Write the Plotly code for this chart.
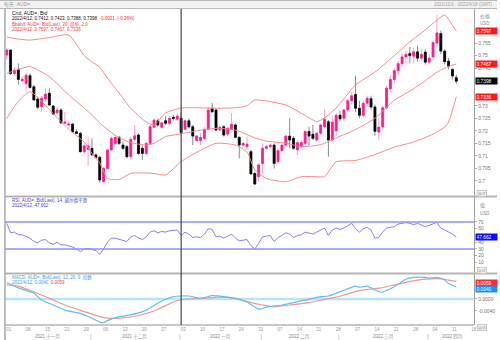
import plotly.graph_objects as go
import pandas as pd

# ---------------- data ----------------
dates = pd.bdate_range("2021-11-01", "2022-04-12").strftime("%Y-%m-%d").tolist()
axis_days = pd.bdate_range("2021-11-01", "2022-04-19")

open_ = [0.7502, 0.7522, 0.7429, 0.7445, 0.7400, 0.7389, 0.7420, 0.7376, 0.7327, 0.7296,
         0.7327, 0.7350, 0.7299, 0.7272, 0.7283, 0.7230, 0.7223, 0.7227, 0.7196, 0.7190,
         0.7117, 0.7126, 0.7130, 0.7104, 0.7094, 0.6997, 0.7050, 0.7124, 0.7150, 0.7174,
         0.7143, 0.7137, 0.7097, 0.7166, 0.7183, 0.7130, 0.7110, 0.7150, 0.7214, 0.7240,
         0.7214, 0.7240, 0.7230, 0.7254, 0.7246, 0.7250, 0.7206, 0.7240, 0.7216, 0.7161,
         0.7161, 0.7170, 0.7206, 0.7290, 0.7283, 0.7203, 0.7216, 0.7187, 0.7206, 0.7223,
         0.7174, 0.7143, 0.7137, 0.7117, 0.7030, 0.7017, 0.7070, 0.7130, 0.7137, 0.7143,
         0.7077, 0.7121, 0.7143, 0.7179, 0.7170, 0.7124, 0.7137, 0.7150, 0.7197, 0.7186,
         0.7163, 0.7190, 0.7216, 0.7236, 0.7163, 0.7200, 0.7262, 0.7250, 0.7283, 0.7320,
         0.7345, 0.7290, 0.7262, 0.7310, 0.7328, 0.7295, 0.7195, 0.7215, 0.7292, 0.7368,
         0.7405, 0.7440, 0.7468, 0.7495, 0.7508, 0.7498, 0.7515, 0.7490, 0.7514, 0.7474,
         0.7495, 0.7550, 0.7588, 0.7518, 0.7478, 0.7445, 0.7412]
high = [0.7529, 0.7525, 0.7453, 0.7469, 0.7416, 0.7429, 0.7429, 0.7383, 0.7336, 0.7339,
        0.7370, 0.7370, 0.7303, 0.7296, 0.7290, 0.7276, 0.7236, 0.7230, 0.7206, 0.7196,
        0.7150, 0.7177, 0.7170, 0.7110, 0.7100, 0.7057, 0.7130, 0.7177, 0.7183, 0.7180,
        0.7157, 0.7143, 0.7177, 0.7223, 0.7190, 0.7143, 0.7157, 0.7223, 0.7250, 0.7250,
        0.7236, 0.7259, 0.7259, 0.7263, 0.7270, 0.7276, 0.7246, 0.7250, 0.7223, 0.7183,
        0.7190, 0.7216, 0.7296, 0.7312, 0.7290, 0.7219, 0.7223, 0.7216, 0.7270, 0.7230,
        0.7177, 0.7157, 0.7177, 0.7124, 0.7037, 0.7070, 0.7150, 0.7143, 0.7150, 0.7150,
        0.7130, 0.7150, 0.7183, 0.7250, 0.7179, 0.7163, 0.7163, 0.7203, 0.7216, 0.7223,
        0.7197, 0.7230, 0.7286, 0.7243, 0.7260, 0.7272, 0.7280, 0.7290, 0.7330, 0.7355,
        0.7420, 0.7320, 0.7320, 0.7340, 0.7340, 0.7305, 0.7250, 0.7300, 0.7380, 0.7420,
        0.7450, 0.7480, 0.7510, 0.7520, 0.7535, 0.7530, 0.7540, 0.7525, 0.7525, 0.7505,
        0.7560, 0.7662, 0.7600, 0.7525, 0.7490, 0.7450, 0.7423]
low = [0.7485, 0.7422, 0.7422, 0.7383, 0.7396, 0.7356, 0.7369, 0.7320, 0.7288, 0.7276,
       0.7316, 0.7299, 0.7263, 0.7263, 0.7227, 0.7227, 0.7217, 0.7192, 0.7187, 0.7113,
       0.7108, 0.7060, 0.7100, 0.7090, 0.6993, 0.6993, 0.7046, 0.7117, 0.7143, 0.7143,
       0.7124, 0.7090, 0.7090, 0.7157, 0.7104, 0.7084, 0.7104, 0.7143, 0.7210, 0.7217,
       0.7210, 0.7223, 0.7223, 0.7240, 0.7240, 0.7187, 0.7203, 0.7210, 0.7143, 0.7157,
       0.7143, 0.7163, 0.7203, 0.7272, 0.7197, 0.7197, 0.7177, 0.7179, 0.7203, 0.7170,
       0.7090, 0.7137, 0.7124, 0.7024, 0.6984, 0.6997, 0.7030, 0.7124, 0.7130, 0.7050,
       0.7070, 0.7117, 0.7137, 0.7130, 0.7124, 0.7104, 0.7130, 0.7143, 0.7143, 0.7163,
       0.7157, 0.7183, 0.7210, 0.7097, 0.7157, 0.7180, 0.7237, 0.7240, 0.7275, 0.7305,
       0.7275, 0.7250, 0.7255, 0.7295, 0.7285, 0.7180, 0.7165, 0.7205, 0.7285, 0.7355,
       0.7390, 0.7425, 0.7455, 0.7470, 0.7470, 0.7470, 0.7475, 0.7480, 0.7465, 0.7465,
       0.7490, 0.7535, 0.7505, 0.7465, 0.7445, 0.7405, 0.7388]
close = [0.7522, 0.7429, 0.7442, 0.7405, 0.7405, 0.7422, 0.7373, 0.7323, 0.7294, 0.7330,
         0.7346, 0.7303, 0.7267, 0.7283, 0.7232, 0.7235, 0.7227, 0.7196, 0.7190, 0.7117,
         0.7140, 0.7140, 0.7104, 0.7094, 0.7004, 0.7050, 0.7124, 0.7170, 0.7174, 0.7150,
         0.7130, 0.7097, 0.7166, 0.7180, 0.7110, 0.7110, 0.7150, 0.7216, 0.7243, 0.7223,
         0.7232, 0.7230, 0.7250, 0.7250, 0.7259, 0.7193, 0.7240, 0.7216, 0.7179, 0.7179,
         0.7174, 0.7206, 0.7283, 0.7276, 0.7203, 0.7214, 0.7183, 0.7210, 0.7226, 0.7174,
         0.7143, 0.7150, 0.7147, 0.7028, 0.6988, 0.7064, 0.7130, 0.7137, 0.7143, 0.7070,
         0.7121, 0.7143, 0.7179, 0.7163, 0.7130, 0.7153, 0.7153, 0.7197, 0.7179, 0.7170,
         0.7190, 0.7223, 0.7246, 0.7163, 0.7235, 0.7262, 0.7248, 0.7283, 0.7320, 0.7340,
         0.7290, 0.7262, 0.7310, 0.7330, 0.7295, 0.7198, 0.7215, 0.7292, 0.7370, 0.7405,
         0.7440, 0.7468, 0.7495, 0.7505, 0.7500, 0.7515, 0.7490, 0.7505, 0.7474, 0.7490,
         0.7552, 0.7590, 0.7518, 0.7476, 0.7458, 0.7419, 0.7398]

bb_dates = ["2021-11-01", "2021-11-04", "2021-11-09", "2021-11-16", "2021-11-23", "2021-11-29",
            "2021-12-01", "2021-12-03", "2021-12-07", "2021-12-10", "2021-12-15", "2021-12-21",
            "2021-12-23", "2021-12-28", "2022-01-03", "2022-01-07", "2022-01-14", "2022-01-21",
            "2022-01-26", "2022-01-28", "2022-02-02", "2022-02-09", "2022-02-15", "2022-02-21",
            "2022-02-23", "2022-02-28", "2022-03-07", "2022-03-14", "2022-03-21", "2022-03-25",
            "2022-03-31", "2022-04-05", "2022-04-07", "2022-04-08", "2022-04-12"]
bb_upper = [0.7574, 0.7566, 0.7562, 0.7572, 0.7582, 0.7500, 0.7475, 0.7454, 0.7410, 0.7351,
            0.7290, 0.7235, 0.7223, 0.7271, 0.7291, 0.7292, 0.7290, 0.7292, 0.7300, 0.7323,
            0.7319, 0.7303, 0.7270, 0.7237, 0.7251, 0.7291, 0.7383, 0.7434, 0.7500, 0.7555,
            0.7602, 0.7642, 0.7662, 0.7645, 0.7597]
bb_mid = [0.7429, 0.7445, 0.7456, 0.7416, 0.7343, 0.7291, 0.7262, 0.7231, 0.7205, 0.7172,
          0.7153, 0.7143, 0.7150, 0.7177, 0.7188, 0.7200, 0.7210, 0.7203, 0.7185, 0.7172,
          0.7159, 0.7151, 0.7137, 0.7142, 0.7150, 0.7172, 0.7205, 0.7250, 0.7322, 0.7358,
          0.7400, 0.7434, 0.7450, 0.7457, 0.7467]
bb_lower = [0.7250, 0.7318, 0.7356, 0.7285, 0.7206, 0.7155, 0.7110, 0.7072, 0.7010, 0.7006,
            0.7030, 0.7032, 0.7030, 0.7024, 0.7077, 0.7114, 0.7150, 0.7143, 0.7115, 0.7044,
            0.7010, 0.6997, 0.7017, 0.7017, 0.7017, 0.7076, 0.7082, 0.7105, 0.7135, 0.7151,
            0.7173, 0.7195, 0.7215, 0.7235, 0.7336]

rsi = [68, 54, 55, 51, 51, 49, 46, 41, 39, 43,
       44, 39, 37, 40, 36, 36, 35, 33, 30, 26,
       30, 31, 29, 28, 22, 30, 40, 46, 46, 44,
       43, 41, 48, 50, 46, 44, 48, 55, 57, 54,
       56, 55, 57, 57, 58, 50, 55, 52, 47, 48,
       47, 52, 60, 59, 48, 49, 46, 49, 52, 46,
       42, 43, 44, 35, 30, 38, 48, 49, 50, 41,
       47, 50, 54, 52, 47, 50, 51, 55, 53, 52,
       55, 58, 61, 50, 58, 61, 59, 61, 64, 68,
       60, 55, 60, 62, 58, 46, 47, 55, 61, 62,
       63, 67, 68, 69, 68, 66, 68, 65, 63, 65,
       67, 69.5, 61, 58, 55, 52, 47.662]

macd_dates = ["2021-11-01", "2021-11-04", "2021-11-10", "2021-11-12", "2021-11-17", "2021-11-22",
              "2021-11-26", "2021-12-01", "2021-12-03", "2021-12-06", "2021-12-07", "2021-12-10",
              "2021-12-15", "2021-12-21", "2021-12-24", "2021-12-28", "2021-12-30", "2022-01-05",
              "2022-01-10", "2022-01-13", "2022-01-18", "2022-01-21", "2022-01-26", "2022-01-31",
              "2022-02-02", "2022-02-08", "2022-02-11", "2022-02-17", "2022-02-22", "2022-02-24",
              "2022-02-28", "2022-03-01", "2022-03-07", "2022-03-08", "2022-03-10", "2022-03-15",
              "2022-03-16", "2022-03-21", "2022-03-24", "2022-03-28", "2022-03-31", "2022-04-01",
              "2022-04-05", "2022-04-07", "2022-04-08", "2022-04-12"]
macd = [0.0054, 0.0037, 0.0019, -0.0003, -0.0020, -0.0037, -0.0048, -0.0064, -0.0077, -0.0079,
        -0.0072, -0.0059, -0.0053, -0.0037, -0.0014, -0.0001, 0.0008, 0.0010, 0.0002, 0.0011,
        0.0008, 0.0002, -0.0010, -0.0034, -0.0027, -0.0020, -0.0012, -0.0001, 0.0008, 0.0010,
        0.0019, 0.0024, 0.0043, 0.0039, 0.0043, 0.0024, 0.0024, 0.0041, 0.0066, 0.0072,
        0.0072, 0.0069, 0.0072, 0.0063, 0.0052, 0.0040]
sig_dates = ["2021-11-01", "2021-11-04", "2021-11-10", "2021-11-16", "2021-11-22", "2021-11-29",
             "2021-12-03", "2021-12-07", "2021-12-10", "2021-12-17", "2021-12-23", "2021-12-28",
             "2021-12-31", "2022-01-05", "2022-01-10", "2022-01-17", "2022-01-21", "2022-01-26",
             "2022-02-01", "2022-02-04", "2022-02-10", "2022-02-17", "2022-02-23", "2022-02-28",
             "2022-03-02", "2022-03-08", "2022-03-15", "2022-03-21", "2022-03-25", "2022-03-31",
             "2022-04-06", "2022-04-08", "2022-04-12"]
signal = [0.0047, 0.0043, 0.0024, 0.0002, -0.0020, -0.0042, -0.0059, -0.0064, -0.0064, -0.0055,
          -0.0040, -0.0022, -0.0005, 0.0000, 0.0002, 0.0006, 0.0002, -0.0009, -0.0020, -0.0026,
          -0.0020, -0.0012, -0.0001, 0.0006, 0.0013, 0.0028, 0.0036, 0.0047, 0.0058, 0.0066,
          0.0067, 0.0063, 0.0059]

price_ticks = [0.700, 0.705, 0.710, 0.715, 0.720, 0.725, 0.730, 0.745, 0.750, 0.755]
rsi_ticks = [10, 20, 30, 40, 60, 70]
macd_ticks = [-0.004, 0.0]
cn_months = ["一月", "二月", "三月", "四月", "五月", "六月", "七月", "八月", "九月", "十月", "十一月", "十二月"]

# ---------------- helpers ----------------
W, H = 500, 340
def px(v): return v / W
def py(v): return 1 - v / H

pos = {d: i for i, d in enumerate(dates)}
xi = list(range(len(dates)))
FONT = "Liberation Sans, Arial, Noto Sans CJK SC"

fig = go.Figure()

# Bollinger bands
for arr in (bb_upper, bb_mid, bb_lower):
    fig.add_trace(go.Scatter(x=[pos[d] for d in bb_dates], y=arr, mode="lines",
                             line=dict(color="#f58a8a", width=1, shape="spline", smoothing=0.6),
                             hoverinfo="skip", showlegend=False, xaxis="x", yaxis="y"))

# candle wicks
fig.add_trace(go.Candlestick(x=xi, open=open_, high=high, low=low, close=close,
                             increasing=dict(line=dict(color="#ff9ccc", width=1), fillcolor="#ff9ccc"),
                             decreasing=dict(line=dict(color="#8a8a8a", width=1), fillcolor="#8a8a8a"),
                             whiskerwidth=0, hoverinfo="skip", showlegend=False, xaxis="x", yaxis="y"))
# candle bodies
body_hi = [max(o, c) for o, c in zip(open_, close)]
body_lo = [min(o, c) for o, c in zip(open_, close)]
fig.add_trace(go.Candlestick(x=xi, open=open_, high=body_hi, low=body_lo, close=close,
                             increasing=dict(line=dict(color="#ff1a8c", width=0.6), fillcolor="#ff1a8c"),
                             decreasing=dict(line=dict(color="#000000", width=0.6), fillcolor="#000000"),
                             whiskerwidth=0, hoverinfo="skip", showlegend=False, xaxis="x", yaxis="y"))

# RSI
fig.add_trace(go.Scatter(x=xi, y=rsi, mode="lines", line=dict(color="#8282ff", width=1),
                         hoverinfo="skip", showlegend=False, xaxis="x", yaxis="y2"))
# MACD
fig.add_trace(go.Scatter(x=[pos[d] for d in sig_dates], y=signal, mode="lines",
                         line=dict(color="#f59494", width=1.2, shape="spline", smoothing=0.6),
                         hoverinfo="skip", showlegend=False, xaxis="x", yaxis="y3"))
fig.add_trace(go.Scatter(x=[pos[d] for d in macd_dates], y=macd, mode="lines",
                         line=dict(color="#63bdf6", width=1.2, shape="spline", smoothing=0.6),
                         hoverinfo="skip", showlegend=False, xaxis="x", yaxis="y3"))

# x axis labels
tick_idx = list(range(0, len(axis_days), 5))
tick_txt = [axis_days[i].strftime("%d") for i in tick_idx]

shapes = []
annotations = []

# month labels + separators
months = {}
for i, d in enumerate(axis_days):
    months.setdefault((d.year, d.month), []).append(i)
for (yr, mo), idxs in months.items():
    annotations.append(dict(x=(idxs[0] + idxs[-1]) / 2, xref="x", y=py(336.8), yref="paper",
                            text=f"{yr} {cn_months[mo - 1]}", showarrow=False, yanchor="middle",
                            font=dict(size=4.5, color="#888", family=FONT)))
    shapes.append(dict(type="line", xref="x", x0=idxs[0] - 0.3, x1=idxs[0] - 0.3, yref="paper",
                       y0=py(334.5), y1=py(339.5), line=dict(color="#c8c8c8", width=1)))

# header
shapes.append(dict(type="rect", xref="paper", yref="paper", x0=0, x1=1, y0=py(8.5), y1=1,
                   fillcolor="#f2f2f2", line=dict(width=0), layer="below"))
for yline in (0.5, 8.5):
    shapes.append(dict(type="line", xref="paper", yref="paper", x0=0, x1=1, y0=py(yline), y1=py(yline),
                       line=dict(color="#b8b8b8", width=1)))
# panel separators
for yline in (196.5, 273.5):
    shapes.append(dict(type="line", xref="paper", yref="paper", x0=px(5), x1=1, y0=py(yline), y1=py(yline),
                       line=dict(color="#b5b5b5", width=2)))
shapes.append(dict(type="line", xref="paper", yref="paper", x0=px(5), x1=px(477), y0=py(325), y1=py(325),
                   line=dict(color="#b5b5b5", width=1.5)))
shapes.append(dict(type="line", xref="paper", yref="paper", x0=px(5), x1=px(5), y0=0, y1=py(8.5),
                   line=dict(color="#a8a8a8", width=1.5)))
# RSI levels
for lvl in (70, 30):
    shapes.append(dict(type="line", xref="x domain", x0=0, x1=1, yref="y2", y0=lvl, y1=lvl,
                       line=dict(color="#8f8fff", width=1.5)))
# MACD zero
shapes.append(dict(type="line", xref="x domain", x0=0, x1=1, yref="y3", y0=0, y1=0,
                   line=dict(color="#b9e3fb", width=2.5), layer="below"))
# crosshair
shapes.append(dict(type="line", xref="x", x0=pos["2022-01-03"], x1=pos["2022-01-03"], yref="paper",
                   y0=py(325), y1=py(9), line=dict(color="#444444", width=1.2)))

# legends
def txt(x, y, s, color, size=5, anchor="left"):
    annotations.append(dict(x=px(x), y=py(y), xref="paper", yref="paper", text=s, showarrow=False,
                            xanchor=anchor, yanchor="middle", font=dict(size=size, color=color, family=FONT)))

last = dates[-1].replace("-0", "/").replace("-", "/")
chg = close[-1] - close[-2]
pct = chg / close[-2] * 100
txt(2, 4.5, "每天  AUD=", "#9a9a9a", 5)
txt(497, 4.5, "2021/11/1 - 2022/4/18 (GMT)", "#a0a0a0", 4.5, "right")
txt(10, 12.8, "Cnd, AUD=, Bid", "#111111", 5)
txt(10, 18.7, f"{last}, {open_[-1]:.4f}, {high[-1]:.4f}, {low[-1]:.4f}, {close[-1]:.4f}, "
    f"<span style='color:#ff2a2a'>{chg:.4f}, ({pct:.2f}%)</span>", "#111111", 4.5)
txt(10, 24.2, "Bband, AUD=, Bid(Last), 20, 简单, 2.0", "#ff3a3a", 4.5)
txt(10, 29.5, f"{last}, {bb_upper[-1]:.4f}, {bb_mid[-1]:.4f}, {bb_lower[-1]:.4f}", "#ff3a3a", 4.5)
txt(10, 200.3, "RSI, AUD=, Bid(Last), 14, 威尔德平滑", "#4545d8", 4.5)
txt(10, 205.6, f"{last}, {rsi[-1]:.3f}", "#4545d8", 4.5)
txt(10, 277.2, "MACD, AUD=, Bid(Last), 12, 26, 9, 指数", "#3aa2ea", 4.5)
txt(10, 282.8, f"{last}, {macd[-1]:.4f}, <span style='color:#ff3a3a'>{signal[-1]:.4f}</span>", "#3aa2ea", 4.5)

# right axis titles
txt(481, 16.5, "价格", "#888", 5)
txt(481, 23.5, "USD", "#888", 4.5)
txt(481, 206, "值", "#888", 5)
txt(481, 213, "USD", "#888", 4.5)
for yb in (193.2, 270.2, 327.5):
    annotations.append(dict(x=px(480), y=py(yb), xref="paper", yref="paper", text="自动", showarrow=False,
                            xanchor="left", yanchor="middle", bordercolor="#b0b0b0", borderwidth=0.6, borderpad=0.3,
                            bgcolor="#f6f6f6", font=dict(size=3.8, color="#999", family=FONT)))

# value boxes
def box(val, yref, s, bg, yshift=0):
    annotations.append(dict(x=px(477.5), y=val, xref="paper", yref=yref, text=s, showarrow=False,
                            xanchor="left", yanchor="middle", bgcolor=bg, borderpad=0.6, width=20, align="left",
                            yshift=yshift, font=dict(size=4.8, color="white", family=FONT)))

box(bb_upper[-1], "y", f"{bb_upper[-1]:.4f}", "#ff1a1a")
box(bb_mid[-1], "y", f"{bb_mid[-1]:.4f}", "#ff1a1a")
box(close[-1], "y", f"{close[-1]:.4f}", "#000000")
box(bb_lower[-1], "y", f"{bb_lower[-1]:.4f}", "#ff1a1a")
box(rsi[-1], "y2", f"{rsi[-1]:.3f}", "#0a0aff")
box(signal[-1], "y3", f"{signal[-1]:.4f}", "#ff2a2a", yshift=-1.5)
box(macd[-1], "y3", f"{macd[-1]:.4f}", "#1e8ff0", yshift=-2.5)

axis_common = dict(side="right", anchor="x", showgrid=False, zeroline=False, showline=True,
                   linecolor="#a0a0a0", linewidth=1, ticks="outside", ticklen=2, tickcolor="#b0b0b0",
                   tickfont=dict(size=5, color="#777", family=FONT), fixedrange=True)

fig.update_layout(
    width=W, height=H, margin=dict(l=0, r=0, t=0, b=0),
    paper_bgcolor="white", plot_bgcolor="white", showlegend=False,
    xaxis=dict(domain=[px(5), px(477)], range=[-0.45, 120.6], anchor="y3", showgrid=False,
               zeroline=False, showline=False, ticks="", tickmode="array", tickvals=tick_idx,
               ticktext=tick_txt, tickfont=dict(size=4.5, color="#999", family=FONT),
               rangeslider=dict(visible=False), ticklabelshift=2),
    yaxis=dict(domain=[py(196), py(9)], range=[0.6940, 0.7686], tickmode="array", tickvals=price_ticks,
               ticktext=[f"{v:g}" for v in price_ticks], **axis_common),
    yaxis2=dict(domain=[py(273), py(197)], range=[-5.6, 107], tickmode="array", tickvals=rsi_ticks,
                ticktext=[str(v) for v in rsi_ticks], **axis_common),
    yaxis3=dict(domain=[py(325), py(274)], range=[-0.00867, 0.00833], tickmode="array", tickvals=macd_ticks,
                ticktext=[f"{v:.4f}" for v in macd_ticks], **axis_common),
    shapes=shapes, annotations=annotations,
)

fig.write_html("out.html")
